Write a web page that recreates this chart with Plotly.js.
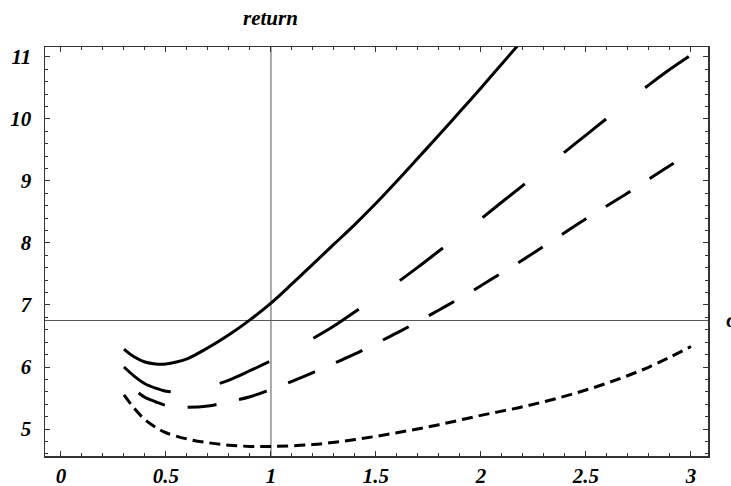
<!DOCTYPE html>
<html>
<head>
<meta charset="utf-8">
<script src="https://cdn.plot.ly/plotly-3.0.1.min.js"></script>
<style>html,body{margin:0;padding:0;background:#fff;}#chart{width:731px;height:486px;}</style>
</head>
<body>
<div id="chart"></div>
<script>
// Curve data
const x1 = [0.3,0.35,0.4,0.45,0.5,0.55,0.6,0.7,0.8,0.9,1.0,1.1,1.2,1.3,1.4,1.5,1.6,1.7,1.8,1.9,2.0,2.1,2.2];
const y1 = [6.29,6.16,6.08,6.05,6.05,6.08,6.13,6.31,6.52,6.76,7.03,7.34,7.66,7.98,8.30,8.64,9.00,9.37,9.74,10.12,10.50,10.89,11.28];

const x2 = [0.3,0.35,0.4,0.45,0.5,0.55,0.6,0.7,0.8,0.9,1.0,1.1,1.2,1.3,1.4,1.5,1.6,1.7,1.8,1.9,2.0,2.1,2.2,2.3,2.4,2.5,2.6,2.7,2.8,2.9,3.0];
const y2 = [6.00,5.85,5.73,5.66,5.61,5.60,5.61,5.68,5.79,5.94,6.10,6.28,6.46,6.66,6.89,7.12,7.36,7.61,7.87,8.13,8.39,8.66,8.93,9.20,9.47,9.74,10.01,10.28,10.55,10.80,11.03];

const x3 = [0.37,0.4,0.45,0.5,0.55,0.6,0.7,0.8,0.9,1.0,1.1,1.2,1.3,1.4,1.5,1.6,1.7,1.8,1.9,2.0,2.1,2.2,2.3,2.4,2.5,2.6,2.7,2.8,2.9,3.0];
const y3 = [5.58,5.51,5.44,5.38,5.36,5.35,5.37,5.44,5.52,5.64,5.77,5.91,6.06,6.21,6.38,6.55,6.73,6.92,7.11,7.31,7.52,7.73,7.95,8.17,8.39,8.60,8.81,9.03,9.25,9.46];

const x4 = [0.3,0.35,0.4,0.45,0.5,0.6,0.7,0.8,0.9,1.0,1.2,1.4,1.6,1.8,2.0,2.2,2.4,2.6,2.8,3.0];
const y4 = [5.55,5.33,5.15,5.03,4.94,4.84,4.78,4.74,4.72,4.72,4.75,4.83,4.94,5.07,5.22,5.36,5.53,5.74,6.00,6.33];

const xTickVals = [0,0.5,1,1.5,2,2.5,3];
const xTickText = ["0","0.5","1","1.5","2","2.5","3"];
const yTickVals = [5,6,7,8,9,10,11];
const yTickText = ["5","6","7","8","9","10","11"];

const axisX = 1;      // vertical axis position
const axisY = 6.75;   // horizontal axis position

const font = {family: "Liberation Serif, Times New Roman, serif", size: 21, color: "#000", weight: "bold", style: "italic"};
const bi = (t) => "<b><i>" + t + "</i></b>";

const lineStyle = (dash) => ({color: "#000", width: 3, dash: dash, shape: "spline"});

const traces = [
  {x: x1, y: y1, mode: "lines", line: lineStyle("solid"), hoverinfo: "skip"},
  {x: x2, y: y2, mode: "lines", line: lineStyle("54px,50px"), hoverinfo: "skip"},
  {x: x3, y: y3, mode: "lines", line: lineStyle("29px,23px"), hoverinfo: "skip"},
  {x: x4, y: y4, mode: "lines", line: lineStyle("11px,6px"), hoverinfo: "skip"}
];

const axCommon = {
  showgrid: false, zeroline: false, showline: true, linecolor: "#333", linewidth: 1.5,
  mirror: "ticks", ticks: "inside", ticklen: 5, tickwidth: 1, tickcolor: "#333",
  tickfont: font, fixedrange: true
};

const layout = {
  width: 731, height: 486,
  margin: {l: 45, r: 23, t: 47, b: 30},
  paper_bgcolor: "#fff", plot_bgcolor: "#fff",
  showlegend: false,
  xaxis: Object.assign({}, axCommon, {
    range: [-0.076, 3.081], tickvals: xTickVals, ticktext: xTickText.map(bi),
    minor: {dtick: 0.1, tick0: 0, ticks: "inside", ticklen: 3, tickcolor: "#333", tickwidth: 1},
    ticklabelstandoff: 0
  }),
  yaxis: Object.assign({}, axCommon, {
    range: [4.565, 11.16], tickvals: yTickVals, ticktext: yTickText.map(bi),
    minor: {dtick: 0.2, tick0: 0, ticks: "inside", ticklen: 3, tickcolor: "#333", tickwidth: 1},
    ticklabelstandoff: 8
  }),
  shapes: [
    {type: "line", xref: "x", yref: "paper", x0: axisX, x1: axisX, y0: 0, y1: 1, line: {color: "#555", width: 1}, layer: "below"},
    {type: "line", xref: "paper", yref: "y", x0: 0, x1: 1, y0: axisY, y1: axisY, line: {color: "#555", width: 1}, layer: "below"}
  ],
  annotations: [
    {text: "return", xref: "x", x: axisX, yref: "paper", y: 1.071, xanchor: "center", yanchor: "middle", showarrow: false, font: font},
    {text: "σ", xref: "paper", x: 1.024, yref: "y", y: axisY, xanchor: "left", yanchor: "middle", showarrow: false, font: font}
  ]
};

Plotly.newPlot("chart", traces, layout, {displayModeBar: false, staticPlot: true});
</script>
</body>
</html>
